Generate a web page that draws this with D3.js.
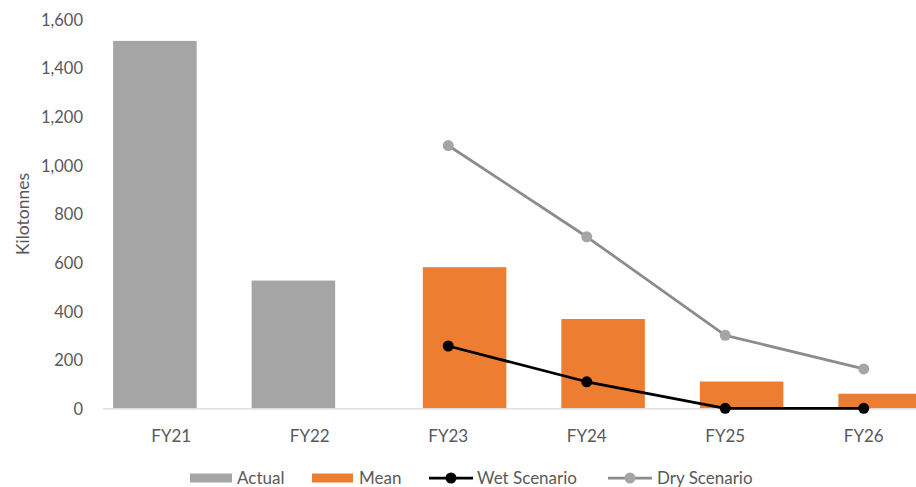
<!DOCTYPE html>
<html>
<head>
<meta charset="utf-8">
<script src="https://cdn.jsdelivr.net/npm/d3@7"></script>
<style>
  html, body { margin: 0; padding: 0; background: #fff; }
  svg { display: block; }
  text { font-family: Lato, "Open Sans", sans-serif; fill: #595959; }
</style>
</head>
<body>
<div id="chart"></div>
<script>
// Annual volumes (kilotonnes)
const categories = ["FY21", "FY22", "FY23", "FY24", "FY25", "FY26"];
const actual = [1510, 525, null, null, null, null];
const mean = [null, null, 580, 367, 110, 60];
const wetScenario = [null, null, 256, 109, 0, 0];
const dryScenario = [null, null, 1080, 705, 300, 162];
const yTicks = [0, 200, 400, 600, 800, 1000, 1200, 1400, 1600];
const yTitle = "Kilotonnes";
const legendLabels = ["Actual", "Mean", "Wet Scenario", "Dry Scenario"];

const W = 916, H = 487;
const colors = { actual: "#A5A5A5", mean: "#ED7D31", wet: "#000000", dryLine: "#8C8C8C", dryMarker: "#A5A5A5" };
const fontStack = "Lato, 'Open Sans', sans-serif";

const svg = d3.select("#chart").append("svg").attr("width", W).attr("height", H);

const x = d3.scaleBand().domain(categories).range([102, 933]).padding(0);
const y = d3.scaleLinear().domain([0, 1600]).range([408.3, 19]);

const barW = x.bandwidth() * 0.603;
const barShift = x.bandwidth() * 0.118;

// y axis labels
const yAxis = d3.axisLeft(y).tickValues(yTicks).tickFormat(d3.format(",")).tickSize(0).tickPadding(0);
const gy = svg.append("g").attr("transform", "translate(83,1)").call(yAxis);
gy.select(".domain").remove();
gy.selectAll("text").attr("font-size", 16.5).attr("fill", "#595959").style("font-family", fontStack);

svg.append("text")
  .attr("transform", "translate(29,214) rotate(-90)")
  .attr("text-anchor", "middle")
  .attr("font-size", 17.5)
  .text(yTitle);

// bars
const barData = [];
categories.forEach((c, i) => {
  if (actual[i] != null) barData.push({ c, v: actual[i], s: "actual", dx: -barShift });
  if (mean[i] != null) barData.push({ c, v: mean[i], s: "mean", dx: barShift });
});
svg.append("g").selectAll("rect").data(barData).join("rect")
  .attr("x", d => x(d.c) + x.bandwidth() / 2 + d.dx - barW / 2)
  .attr("width", barW)
  .attr("y", d => y(d.v))
  .attr("height", d => y(0) - y(d.v))
  .attr("fill", d => colors[d.s]);

// x axis
const xAxis = d3.axisBottom(x).tickSize(0).tickPadding(0);
const gx = svg.append("g").attr("transform", `translate(0,${y(0)})`).call(xAxis);
gx.select(".domain").attr("stroke", "#D9D9D9").attr("stroke-width", 1.3);
gx.selectAll("text").attr("font-size", 17).attr("dy", null).attr("y", 34)
  .attr("fill", "#595959").style("font-family", fontStack);

// scenario lines
function drawSeries(vals, lineColor, markerColor) {
  const pts = categories.map((c, i) => ({ c, v: vals[i] })).filter(d => d.v != null);
  const line = d3.line().x(d => x(d.c) + x.bandwidth() / 2).y(d => y(d.v));
  svg.append("path").datum(pts).attr("d", line)
    .attr("fill", "none").attr("stroke", lineColor).attr("stroke-width", 2.75)
    .attr("stroke-linejoin", "round");
  svg.append("g").selectAll("circle").data(pts).join("circle")
    .attr("cx", d => x(d.c) + x.bandwidth() / 2)
    .attr("cy", d => y(d.v))
    .attr("r", 5.5)
    .attr("fill", markerColor);
}
drawSeries(dryScenario, colors.dryLine, colors.dryMarker);
drawSeries(wetScenario, colors.wet, colors.wet);

// legend
const lg = svg.append("g").attr("class", "legend");
const ly = 478;
const items = [
  { label: legendLabels[0], type: "rect", color: colors.actual, x0: 190, x1: 232, tx: 237 },
  { label: legendLabels[1], type: "rect", color: colors.mean, x0: 312, x1: 353, tx: 359 },
  { label: legendLabels[2], type: "line", color: colors.wet, marker: colors.wet, x0: 429, x1: 473, tx: 477 },
  { label: legendLabels[3], type: "line", color: colors.dryLine, marker: colors.dryMarker, x0: 608, x1: 652, tx: 657 }
];
items.forEach(it => {
  if (it.type === "rect") {
    lg.append("rect").attr("x", it.x0).attr("y", ly - 4.5).attr("width", it.x1 - it.x0).attr("height", 9).attr("fill", it.color);
  } else {
    lg.append("line").attr("x1", it.x0).attr("x2", it.x1).attr("y1", ly).attr("y2", ly)
      .attr("stroke", it.color).attr("stroke-width", 2.75);
    lg.append("circle").attr("cx", (it.x0 + it.x1) / 2).attr("cy", ly).attr("r", 5.5).attr("fill", it.marker);
  }
  lg.append("text").attr("x", it.tx).attr("y", ly).attr("dy", "0.35em").attr("font-size", 17).text(it.label);
});
</script>
</body>
</html>
